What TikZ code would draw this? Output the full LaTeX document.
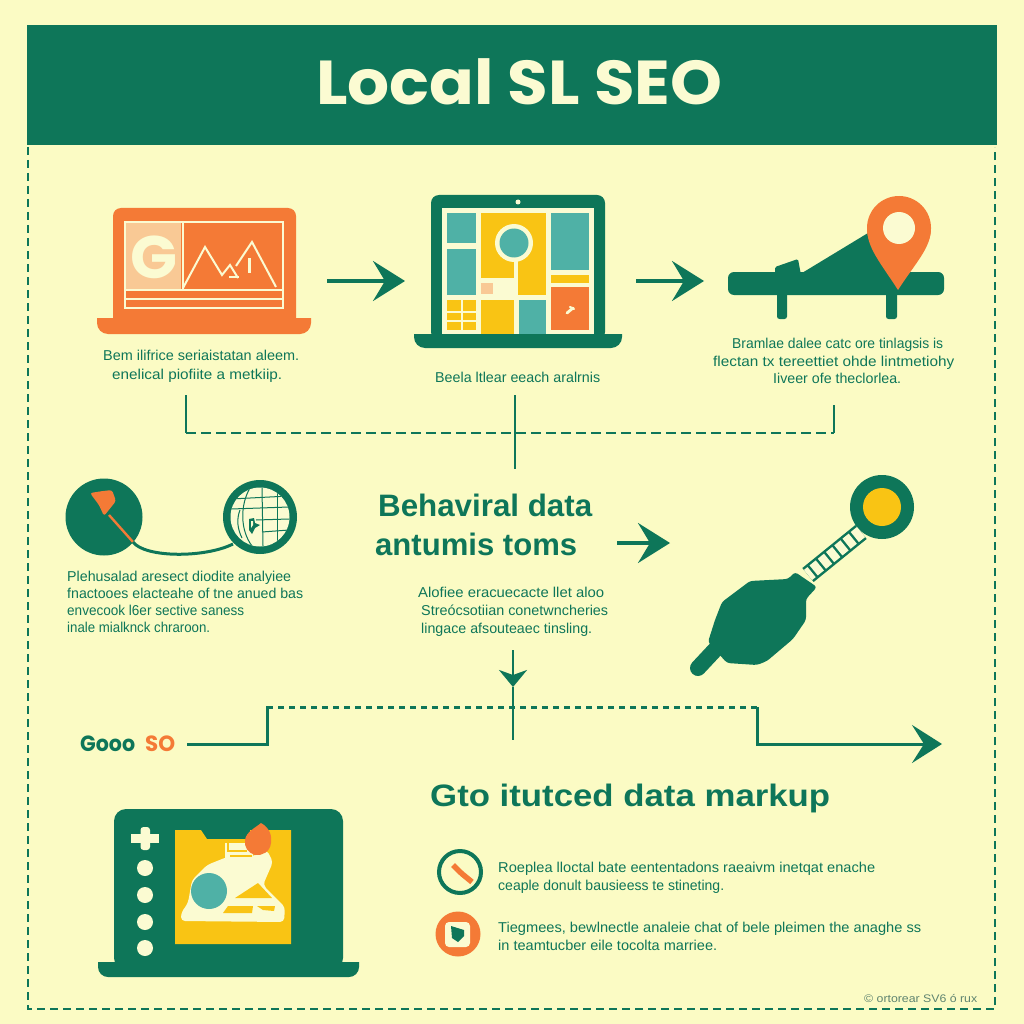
\documentclass[tikz,border=0pt]{standalone}
\usepackage{fontspec}
\usepackage{graphicx}
\setmainfont{Liberation Sans}
\newfontfamily\popf{Poppins}
\usetikzlibrary{arrows.meta}
\definecolor{bgc}{HTML}{FBFBC4}
\definecolor{grn}{HTML}{0E7659}
\definecolor{org}{HTML}{F47A36}
\definecolor{yel}{HTML}{F9C414}
\definecolor{tel}{HTML}{4FB1A6}
\definecolor{pch}{HTML}{F9C995}
\definecolor{crm}{HTML}{FBFBD2}
\definecolor{fnt}{HTML}{5F8470}
\newcommand{\fitw}[2]{\resizebox{#1pt}{\height}{#2}}
\tikzset{
  txt/.style={anchor=base west,inner sep=0pt,text=grn,font=\fontsize{14.3}{16}\selectfont},
  head/.style={anchor=base west,inner sep=0pt,text=grn,font=\fontsize{31}{35}\selectfont\bfseries},
  conn/.style={draw=grn,line width=2.6pt},
  dashc/.style={draw=grn,line width=2.8pt,dash pattern=on 10pt off 5pt},
  dotc/.style={draw=grn,line width=3pt,dash pattern=on 6pt off 5pt},
  frame/.style={draw=grn,line width=2.4pt,dash pattern=on 8pt off 5pt},
  bigarrow/.style={draw=grn,line width=3.4pt,-{Stealth[length=32pt,width=40pt,inset=12pt]}},
}
\begin{document}
\begin{tikzpicture}[x=1pt,y=-1pt]
\fill[bgc] (0,0) rectangle (1024,1024);
\useasboundingbox (0,0) rectangle (1024,1024);
% header
\fill[grn] (27,25) rectangle (997,145);
\node[anchor=base west,inner sep=0pt,text=crm,font=\fontsize{62}{70}\selectfont\popf\bfseries] (title) at (316,105) {\fitw{406}{Local SL SEO}};
% frame
\coordinate (fa) at (28,147);
\coordinate (fb) at (28,1009);
\coordinate (fc) at (995,1009);
\coordinate (fd) at (995,147);
\draw[frame] (fa) -- (fb) -- (fc) -- (fd);

% laptop 1
\fill[org,rounded corners=8pt] (113,208) rectangle (296,330);
\fill[org] (97,318) -- (311,318) [rounded corners=11pt] -- (311,334) -- (97,334) [sharp corners] -- (97,318) -- cycle;
\fill[pch] (126,223) rectangle (181,290);
\draw[crm,line width=2.2pt] (125,222) rectangle (283,308);
\draw[crm,line width=2.2pt] (125,290) -- (283,290);
\draw[crm,line width=2.2pt] (125,299) -- (283,299);
\draw[crm,line width=2.4pt] (183,222) -- (183,290);
\node[anchor=base west,inner sep=0pt,text=crm,font=\fontsize{60}{60}\selectfont\popf\bfseries] (gmark) at (130,278) {\fitw{47}{G}};
\draw[crm,line width=2pt,line join=miter] (183,288) -- (205,247) -- (222,275) -- (230,265) -- (238,278);
\draw[crm,line width=2pt] (236,266) -- (252,242) -- (276,287);
\draw[crm,line width=2pt] (229,277) -- (239,277);
\fill[crm] (247.5,258) rectangle (251,273);
\node[txt] (t1a) at (103,360) {\fitw{196}{Bem ilifrice seriaistatan aleem.}};
\node[txt] (t1b) at (112,379) {\fitw{170}{enelical piofiite a metkiip.}};

% arrow 1
\coordinate (a1s) at (327,281);
\coordinate (a1e) at (405,281);
\draw[bigarrow] (a1s) -- (a1e);

% laptop 2
\fill[grn,rounded corners=8pt] (431,195) rectangle (605,340);
\fill[grn] (414,334) -- (622,334) [rounded corners=11pt] -- (622,348) -- (414,348) [sharp corners] -- (414,334) -- cycle;
\fill[crm] (518,202) circle[radius=2.5];
\fill[crm] (442,208) rectangle (594,334);
\fill[tel] (447,213) rectangle (476,243);
\fill[tel] (447,249) rectangle (476,295);
\fill[yel] (481,213) rectangle (546,295);
\fill[crm] (481,278) rectangle (518,300);
\fill[crm] (514,255) rectangle (518,280);
\fill[crm] (514,243) circle[radius=19];
\fill[tel] (514,243) circle[radius=14.5];
\fill[pch] (481,283) rectangle (493,294);
\fill[yel] (447,300) rectangle (476,330);
\draw[crm,line width=1.6pt] (462,300) -- (462,330);
\draw[crm,line width=1.2pt] (447,312) -- (476,312);
\draw[crm,line width=1.2pt] (447,321) -- (476,321);
\fill[yel] (481,300) rectangle (514,334);
\fill[tel] (519,300) rectangle (546,334);
\fill[tel] (551,213) rectangle (589,270);
\fill[yel] (551,275) rectangle (589,283);
\fill[org] (551,287) rectangle (589,330);
\draw[crm,line width=2.8pt,line cap=round] (567,313) -- (573,308);
\draw[crm,line width=2.2pt,line cap=round] (570,307) -- (574,309);
\node[txt] (t2a) at (435,382) {\fitw{165}{Beela ltlear eeach aralrnis}};

% arrow 2
\coordinate (a2s) at (636,281);
\coordinate (a2e) at (704,281);
\draw[bigarrow] (a2s) -- (a2e);

% pin bench icon
\fill[grn,rounded corners=6pt] (728,272) rectangle (944,295);
\fill[grn,rounded corners=2.5pt] (777,285) rectangle (787,319);
\fill[grn,rounded corners=2.5pt] (886,285) rectangle (897,319);
\fill[grn] (802,273) -- (868,233) -- (898,285) -- (802,285) -- cycle;
\fill[grn,rounded corners=1.5pt] (775,275) -- (775,267) -- (798,259) -- (801,275) -- cycle;
\fill[org] (898,290) .. controls (880,262) and (867,248) .. (867,228) -- (931,228) .. controls (931,248) and (916,262) .. (898,290) -- cycle;
\fill[org] (899,228) circle[radius=32];
\fill[crm] (899,228) circle[radius=16];
\node[txt] (t3a) at (732,348) {\fitw{211}{Bramlae dalee catc ore tinlagsis is}};
\node[txt] (t3b) at (713,366) {\fitw{241}{flectan tx tereettiet ohde lintmetiohy}};
\node[txt] (t3c) at (773,383) {\fitw{128}{Iiveer ofe theclorlea.}};

% connector bracket row 1
\coordinate (b1) at (186,395);
\coordinate (b2) at (186,433);
\coordinate (b3) at (834,433);
\coordinate (b4) at (834,405);
\coordinate (c1) at (515,395);
\coordinate (c2) at (515,469);
\draw[conn] (b1) -- (b2);
\draw[conn] (b4) -- (b3);
\draw[dashc] (b2) -- (b3);
\draw[conn] (c1) -- (c2);

% circles
\fill[grn] (104,517) circle[radius=38.5];
\fill[org,rounded corners=2.5pt] (90,493) -- (103,491) -- (112,490) -- (116,501) -- (104,516) -- (99,505) -- cycle;
\draw[org,line width=2.4pt] (109,515) -- (133,542);
\fill[grn] (260,517) circle[radius=37];
\fill[crm] (260,517) circle[radius=29.5];
\begin{scope}
\clip (260,517) circle[radius=29.5];
\draw[grn,line width=1pt] (231,499) -- (289,496);
\draw[grn,line width=1pt] (231,509) -- (289,507);
\draw[grn,line width=1pt] (256,520) -- (289,519);
\draw[grn,line width=1pt] (262,532) -- (289,530);
\draw[grn,line width=1pt] (250,488) .. controls (240,505) and (240,530) .. (252,546);
\draw[grn,line width=1pt] (262,488) -- (263,546);
\draw[grn,line width=1pt] (277,488) -- (277,546);
\draw[grn,line width=1pt] (240,510) .. controls (236,520) and (238,530) .. (242,538);
\fill[grn] (249,519) -- (254,518) -- (255,523) -- (260,525) -- (255,528) -- (252,534) -- (249,530) -- cycle;
\fill[crm] (251,521) -- (253,521) -- (253,525) -- (251,528) -- cycle;
\end{scope}
\coordinate (l1) at (133,542);
\coordinate (l2) at (233,544);
\draw[grn,line width=3pt] (l1) .. controls (145,558) and (205,558) .. (l2);
\node[txt] (t4a) at (67,581) {\fitw{224}{Plehusalad aresect diodite analyiee}};
\node[txt] (t4b) at (67,598) {\fitw{236}{fnactooes elacteahe of tne anued bas}};
\node[txt] (t4c) at (67,615) {\fitw{177}{envecook l6er sective saness}};
\node[txt] (t4d) at (67,632) {\fitw{143}{inale mialknck chraroon.}};

% central heading
\node[head] (h1) at (378,516) {\fitw{214}{Behaviral data}};
\node[head] (h2) at (375,555) {\fitw{202}{antumis toms}};
\coordinate (a3s) at (617,543);
\coordinate (a3e) at (670,543);
\draw[bigarrow] (a3s) -- (a3e);
\node[txt] (t5a) at (418,597) {\fitw{186}{Alofiee eracuecacte llet aloo}};
\node[txt] (t5b) at (421,615) {\fitw{187}{Streócsotiian conetwncheries}};
\node[txt] (t5c) at (421,633) {\fitw{171}{lingace afsouteaec tinsling.}};

% plug / key icon
\fill[grn] (882,507) circle[radius=32];
\fill[yel] (882,507) circle[radius=19];
\coordinate (k1) at (861,532);
\coordinate (k2) at (808,575);
\draw[grn,line width=18pt] (k1) -- (k2);
\draw[crm,line width=13pt,dash pattern=on 8pt off 2.6pt] (k1) -- (k2);
\fill[grn,rounded corners=3pt] (750,581) -- (788,579) -- (795,572) -- (817,587) -- (806,599) -- (806,620) -- (793,639) -- (767,661) -- (757,665) -- (727,663) -- (708,642) -- (715,620) -- (722,602) -- cycle;
\draw[grn,line width=16pt,line cap=round] (727,637) -- (698,668);

% down arrow
\coordinate (d1) at (513,650);
\coordinate (d2) at (513,687);
\coordinate (d3) at (513,740);
\draw[conn,-{Stealth[length=17pt,width=28pt,inset=5pt]}] (d1) -- (d2);
\draw[conn] (d2) -- (d3);

% lower path
\node[anchor=base west,inner sep=0pt,text=grn,font=\fontsize{22}{24}\selectfont\popf\bfseries] (goo) at (80,751) {\fitw{55}{Gooo}};
\node[anchor=base west,inner sep=0pt,text=org,font=\fontsize{22}{24}\selectfont\popf\bfseries] (so) at (145,751) {\fitw{30}{SO}};
\coordinate (p1) at (188,744);
\coordinate (p2) at (267,744);
\coordinate (p3) at (267,707);
\coordinate (p4) at (757,707);
\coordinate (p5) at (757,744);
\coordinate (p6) at (942,744);
\draw[conn,line width=3pt,line cap=rect] (p1) -- (p2) -- (p3);
\draw[dotc] (p3) -- (p4);
\draw[draw=grn,line width=3pt,-{Stealth[length=30pt,width=38pt,inset=12pt]}] (p4) -- (p5) -- (p6);

% lower heading
\node[head] (h3) at (430,806) {\fitw{400}{Gto itutced data markup}};

% laptop 3
\fill[grn,rounded corners=12pt] (114,809) rectangle (343,970);
\fill[grn] (98,962) -- (359,962) [rounded corners=10pt] -- (359,977) -- (98,977) [sharp corners] -- (98,962) -- cycle;
\fill[crm] (131,833.5) rectangle (159,843);
\fill[crm,rounded corners=3pt] (140.5,827) rectangle (150,850);
\foreach \yy in {868,895,922,948} \fill[crm] (145,\yy) circle[radius=8];
\fill[yel] (175,830) -- (201,830) -- (207,839) -- (250,839) -- (250,830) -- (291,830) -- (291,944) -- (175,944) -- cycle;
\fill[crm,rounded corners=4pt] (181,921) -- (284,922) -- (285,907) -- (263,885) -- (273,862) -- (267,850) -- (250,857) -- (227,857) -- (207,865) -- (192,880) -- (188,903) -- (181,913) -- cycle;
\fill[tel] (209,891) circle[radius=18];
\fill[yel] (258,883) -- (235,898) -- (272,898) -- cycle;
\fill[yel] (228,906) -- (253,906) -- (252,913) -- (223,913) -- cycle;
\fill[yel] (257,906) -- (275,906) -- (274,911) -- (263,910) -- cycle;
\fill[crm] (225,843) rectangle (253,860);
\draw[yel,line width=1.6pt] (228,843) -- (228,851) -- (247,851);
\draw[yel,line width=1.6pt] (230,856) -- (252,856);
\fill[org] (261,823) .. controls (270,828) and (272,836) .. (271,843) .. controls (270,852) and (262,856) .. (255,855) .. controls (248,853) and (244,847) .. (245,840) .. controls (246,832) and (255,828) .. (261,823) -- cycle;

% icons right
\draw[grn,line width=4pt] (460,872) circle[radius=21];
\draw[org,line width=5.5pt,line cap=butt,rounded corners=2pt] (453,865) -- (461,873) -- (472,882);
\fill[org] (458,934) circle[radius=22.5];
\fill[crm,rounded corners=4pt] (445,922) rectangle (470,947);
\fill[grn] (451,926) -- (464,930) -- (464,936) -- (458,942) -- (452,938) -- cycle;
\node[txt] (t6a) at (498,872) {\fitw{377}{Roeplea lloctal bate eententadons raeaivm inetqat enache}};
\node[txt] (t6b) at (498,890) {\fitw{226}{ceaple donult bausieess te stineting.}};
\node[txt] (t7a) at (498,932) {\fitw{423}{Tiegmees, bewlnectle analeie chat of bele pleimen the anaghe ss}};
\node[txt] (t7b) at (498,950) {\fitw{219}{in teamtucber eile tocolta marriee.}};
\node[txt,text=fnt,font=\fontsize{11}{12}\selectfont] (foot) at (864,1002) {\fitw{113}{© ortorear SV6 ó rux}};
\end{tikzpicture}
\end{document}
